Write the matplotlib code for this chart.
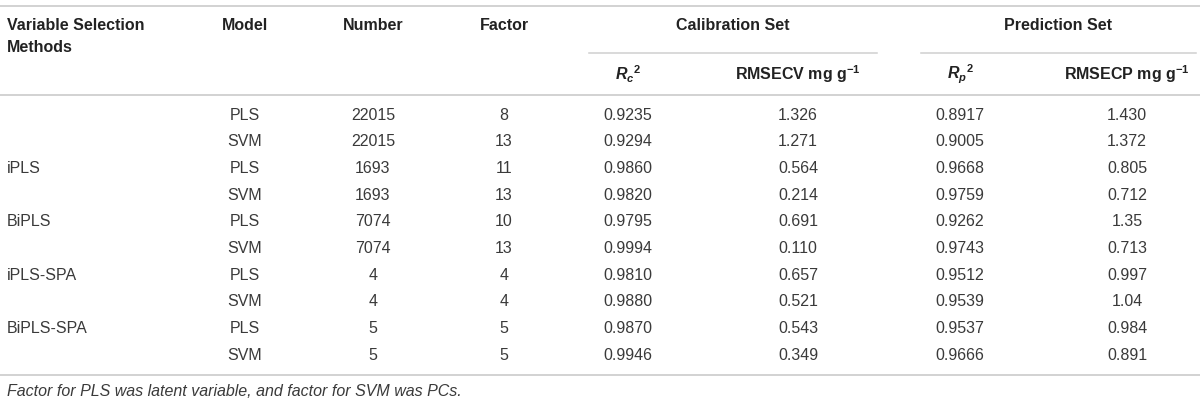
import matplotlib
matplotlib.use("Agg")
import matplotlib.pyplot as plt

# ---- data ----
methods = ["", "", "iPLS", "", "BiPLS", "", "iPLS-SPA", "", "BiPLS-SPA", ""]
models = ["PLS", "SVM", "PLS", "SVM", "PLS", "SVM", "PLS", "SVM", "PLS", "SVM"]
numbers = ["22015", "22015", "1693", "1693", "7074", "7074", "4", "4", "5", "5"]
factors = ["8", "13", "11", "13", "10", "13", "4", "4", "5", "5"]
rc2 = ["0.9235", "0.9294", "0.9860", "0.9820", "0.9795", "0.9994", "0.9810", "0.9880", "0.9870", "0.9946"]
rmsecv = ["1.326", "1.271", "0.564", "0.214", "0.691", "0.110", "0.657", "0.521", "0.543", "0.349"]
rp2 = ["0.8917", "0.9005", "0.9668", "0.9759", "0.9262", "0.9743", "0.9512", "0.9539", "0.9537", "0.9666"]
rmsecp = ["1.430", "1.372", "0.805", "0.712", "1.35", "0.713", "0.997", "1.04", "0.984", "0.891"]
footnote = "Factor for PLS was latent variable, and factor for SVM was PCs."

plt.rcParams["font.family"] = ["Liberation Sans", "DejaVu Sans"]
plt.rcParams["mathtext.fontset"] = "custom"
plt.rcParams["mathtext.rm"] = "Liberation Sans"
plt.rcParams["mathtext.it"] = "Liberation Sans:italic"
plt.rcParams["mathtext.bf"] = "Liberation Sans:bold"
plt.rcParams["mathtext.bfit"] = "Liberation Sans:italic:bold"

W, H = 1200, 405
fig = plt.figure(figsize=(W / 100, H / 100), dpi=100)
ax = fig.add_axes([0, 0, 1, 1])
ax.set_xlim(0, W)
ax.set_ylim(H, 0)
ax.axis("off")

HTXT = "#222222"
TXT = "#3a3a3a"
LINE = "#cfcfcf"
FS = 11.5

# column positions
x_method = 7
x_model = 245
x_number = 373
x_factor = 504
x_rc2 = 628
x_rmsecv = 798
x_rp2 = 960
x_rmsecp = 1127
cal_span = (589, 877)
pred_span = (921, 1196)

# horizontal rules
ax.plot([0, W], [6, 6], color=LINE, lw=1.3)
ax.plot([0, W], [95, 95], color=LINE, lw=1.3)
ax.plot(cal_span, [53, 53], color=LINE, lw=1.1)
ax.plot(pred_span, [53, 53], color=LINE, lw=1.1)

# header
hkw = dict(fontsize=FS, color=HTXT, fontweight="bold", va="center")
ax.text(x_method, 26, "Variable Selection", ha="left", **hkw)
ax.text(x_method, 48, "Methods", ha="left", **hkw)
ax.text(x_model, 26, "Model", ha="center", **hkw)
ax.text(x_number, 26, "Number", ha="center", **hkw)
ax.text(x_factor, 26, "Factor", ha="center", **hkw)
ax.text(sum(cal_span) / 2, 26, "Calibration Set", ha="center", **hkw)
ax.text(sum(pred_span) / 2, 26, "Prediction Set", ha="center", **hkw)
ax.text(x_rc2, 74, r"$\mathbfit{R_c}^{\mathbf{2}}$", ha="center", **hkw)
ax.text(x_rmsecv, 74, r"RMSECV mg g$^{\mathbf{-1}}$", ha="center", **hkw)
ax.text(x_rp2, 74, r"$\mathbfit{R_p}^{\mathbf{2}}$", ha="center", **hkw)
ax.text(x_rmsecp, 74, r"RMSECP mg g$^{\mathbf{-1}}$", ha="center", **hkw)

# rows
dkw = dict(fontsize=FS, color=TXT, va="center")
y0, dy = 115, 26.7
for i in range(len(models)):
    y = y0 + i * dy
    ax.text(x_method, y, methods[i], ha="left", **dkw)
    ax.text(x_model, y, models[i], ha="center", **dkw)
    ax.text(x_number, y, numbers[i], ha="center", **dkw)
    ax.text(x_factor, y, factors[i], ha="center", **dkw)
    ax.text(x_rc2, y, rc2[i], ha="center", **dkw)
    ax.text(x_rmsecv, y, rmsecv[i], ha="center", **dkw)
    ax.text(x_rp2, y, rp2[i], ha="center", **dkw)
    ax.text(x_rmsecp, y, rmsecp[i], ha="center", **dkw)

y_bottom = 375
ax.plot([0, W], [y_bottom, y_bottom], color=LINE, lw=1.3)
ax.text(x_method, 391, footnote, ha="left", va="center",
        fontsize=FS, color=TXT, style="italic")

fig.savefig("out.png", dpi=100)
